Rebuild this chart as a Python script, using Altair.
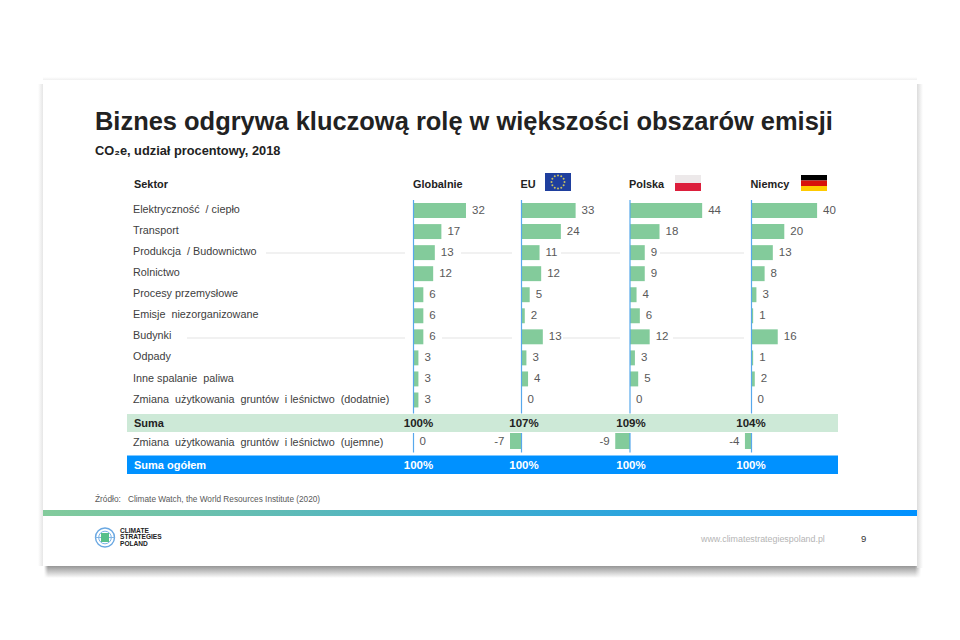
import math
import altair as alt
import pandas as pd

FONT = "Liberation Sans"
SP = " \u00a0"
SECTORS = ["Elektryczność" + SP + "/ ciepło", "Transport", "Produkcja" + SP + "/ Budownictwo", "Rolnictwo",
           "Procesy przemysłowe", "Emisje" + SP + "niezorganizowane", "Budynki", "Odpady",
           "Inne spalanie" + SP + "paliwa",
           "Zmiana" + SP + "użytkowania" + SP + "gruntów" + SP + "i leśnictwo" + SP + "(dodatnie)"]
NEG_LABEL = "Zmiana" + SP + "użytkowania" + SP + "gruntów" + SP + "i leśnictwo" + SP + "(ujemne)"
COUNTRIES = ["Globalnie", "EU", "Polska", "Niemcy"]
VALUES = {
    "Globalnie": [32, 17, 13, 12, 6, 6, 6, 3, 3, 3],
    "EU": [33, 24, 11, 12, 5, 2, 13, 3, 4, 0],
    "Polska": [44, 18, 9, 9, 4, 6, 12, 3, 5, 0],
    "Niemcy": [40, 20, 13, 8, 3, 1, 16, 1, 2, 0],
}
NEGATIVE = {"Globalnie": 0, "EU": -7, "Polska": -9, "Niemcy": -4}
SUMA = {"Globalnie": "100%", "EU": "107%", "Polska": "109%", "Niemcy": "104%"}
OGOLEM = {"Globalnie": "100%", "EU": "100%", "Polska": "100%", "Niemcy": "100%"}

W, H = 944, 624
def X(p): return p - 8
def Y(p): return p - 8
BASE = {"Globalnie": 413.5, "EU": 521.5, "Polska": 630, "Niemcy": 751.5}
TOTAL_X = {"Globalnie": 418.5, "EU": 524, "Polska": 631, "Niemcy": 751}
K = 1.64
GREEN = "#83CB9B"
BLUE = "#0091FF"
AXBLUE = "#58A8EC"

EMPTY = pd.DataFrame({"a": [0]})

def rect(x1, y1, x2, y2, color, opacity=1.0, **kw):
    return alt.Chart(EMPTY).mark_rect(color=color, opacity=opacity, **kw).encode(
        x=alt.value(X(x1)), x2=alt.value(X(x2)), y=alt.value(Y(y1)), y2=alt.value(Y(y2)))

def txt(s, x, y, size=12, color="#404040", bold=False, align="left"):
    return alt.Chart(pd.DataFrame({"t": [s]})).mark_text(
        font=FONT, fontSize=size, color=color, fontWeight="bold" if bold else "normal",
        align=align, baseline="middle").encode(x=alt.value(X(x)), y=alt.value(Y(y)), text="t:N")

def grad(c1, c2, vertical=False):
    return alt.Gradient(gradient="linear", x1=0, x2=0 if vertical else 1, y1=0, y2=1 if vertical else 0,
                        stops=[alt.GradientStop(color=c1, offset=0), alt.GradientStop(color=c2, offset=1)])

layers = []
# slide shadow
layers.append(rect(44, 566, 921, 578, grad("#969696", "#FFFFFF", True)))
layers.append(rect(915, 566, 921, 578, grad("rgba(255,255,255,0)", "#FFFFFF")))
layers.append(rect(44, 566, 48, 578, grad("#FFFFFF", "rgba(255,255,255,0)")))
layers.append(rect(917, 84, 923, 568, grad("#DCDCDC", "#FFFFFF")))
layers.append(rect(38, 84, 43, 566, grad("#FFFFFF", "#E6E6E6")))
layers.append(rect(43, 77, 917, 80, grad("#FFFFFF", "#F0F0F0", True)))
layers.append(rect(43, 80, 917, 566, "#FFFFFF"))

# title
layers.append(txt("Biznes odgrywa kluczową rolę w większości obszarów emisji", 95, 122, 25.45, "#222222", True))
layers.append(txt("CO₂e, udział procentowy, 2018", 95, 151, 12.8, "#222222", True))
layers.append(txt("Sektor", 134, 184.5, 10.9, "#222222", True))
for c, px in zip(COUNTRIES, [413, 520.5, 629, 750.5]):
    layers.append(txt(c, px, 184.5, 10.9, "#222222", True))

# flags
layers.append(rect(545, 173, 571, 191, "#1F3F9E"))
for i in range(12):
    a = i * math.pi / 6
    layers.append(alt.Chart(EMPTY).mark_point(filled=True, color="#C9C060", size=4, opacity=1).encode(
        x=alt.value(X(558 + 6.5 * math.cos(a))), y=alt.value(Y(182 + 6.5 * math.sin(a)))))
layers.append(rect(675, 175, 701, 183, "#EDE9EA"))
layers.append(rect(675, 183, 701, 191, "#DC1F3C"))
layers.append(rect(801, 175, 827, 180.5, "#000000"))
layers.append(rect(801, 180.5, 827, 186, "#D8110B"))
layers.append(rect(801, 186, 827, 191, "#FFCB00"))

# grid strokes
for y, segs in [(253, [(266, 405), (461, 512), (561, 620), (660, 744)]),
                (338, [(187, 405), (442, 512), (563, 620), (673, 744)])]:
    for a, b in segs:
        layers.append(rect(a, y - 1, b, y + 1, "#F1F1F1"))

# bands
layers.append(rect(127, 414, 838, 432, "#CDE9D7"))
layers.append(rect(127, 455.5, 838, 474, BLUE))

# row labels
ytop, ybot = Y(200), Y(410.5)
ysc = alt.Scale(domain=SECTORS, range=[ytop, ybot], paddingInner=0.29, paddingOuter=0.145)
sector_df = pd.DataFrame({"s": SECTORS})
layers.append(alt.Chart(sector_df).mark_text(font=FONT, fontSize=10.8, color="#404040", align="left", baseline="middle", dy=-0.4).encode(
    x=alt.value(X(133)), y=alt.Y("s:N", scale=ysc, axis=None, sort=SECTORS), text="s:N"))

for c in COUNTRIES:
    b = BASE[c]
    xsc = alt.Scale(domain=[-10, 50], range=[X(b - 10 * K), X(b + 50 * K)])
    df = pd.DataFrame({"s": SECTORS, "v": VALUES[c], "z": [0] * 10})
    df["vv"] = df["v"].astype(str)
    bars = alt.Chart(df[df.v > 0]).mark_bar(color=GREEN).encode(
        x=alt.X("z:Q", scale=xsc, axis=None), x2="v:Q",
        y=alt.Y("s:N", scale=ysc, axis=None, sort=SECTORS))
    labels = alt.Chart(df).mark_text(font=FONT, fontSize=11.5, color="#595959", align="left", baseline="middle", dx=6).encode(
        x=alt.X("v:Q", scale=xsc, axis=None),
        y=alt.Y("s:N", scale=ysc, axis=None, sort=SECTORS), text="vv:N")
    layers += [bars, labels]

    # negative row
    nrow = pd.DataFrame({"s": [NEG_LABEL], "v": [NEGATIVE[c]], "z": [0], "vv": [str(NEGATIVE[c])]})
    ynsc = alt.Scale(domain=[NEG_LABEL], range=[Y(433), Y(449)], paddingInner=0, paddingOuter=0)
    if NEGATIVE[c] < 0:
        layers.append(alt.Chart(nrow).mark_bar(color=GREEN).encode(
            x=alt.X("v:Q", scale=xsc, axis=None), x2="z:Q", y=alt.Y("s:N", scale=ynsc, axis=None)))
    layers.append(alt.Chart(nrow).mark_text(font=FONT, fontSize=11.5, color="#595959",
                                            align="right" if NEGATIVE[c] < 0 else "left",
                                            baseline="middle", dx=-5.5 if NEGATIVE[c] < 0 else 6, dy=1).encode(
        x=alt.X("v:Q", scale=xsc, axis=None), y=alt.Y("s:N", scale=ynsc, axis=None), text="vv:N"))
    # axis lines
    layers.append(rect(b - .6, 200, b + .6, 413.5, AXBLUE))
    layers.append(rect(b - .6, 433, b + .6, 452.5, AXBLUE))
    # totals
    layers.append(txt(SUMA[c], TOTAL_X[c], 423.5, 11.5, "#222222", True, "center"))
    layers.append(txt(OGOLEM[c], TOTAL_X[c], 465.5, 11.5, "#FFFFFF", True, "center"))

layers.append(txt(NEG_LABEL, 133, 442.5, 10.8))
layers.append(txt("Suma", 134, 423.5, 11, "#222222", True))
layers.append(txt("Suma ogółem", 134, 465.5, 11, "#FFFFFF", True))

# footer
layers.append(txt("Źródło:", 95, 499.5, 8.3, "#595959"))
layers.append(txt("Climate Watch, the World Resources Institute (2020)", 128, 499.5, 8.25, "#595959"))
layers.append(rect(43, 510, 917, 516, grad("#83CB9B", "#0091FF")))
layers.append(txt("www.climatestrategiespoland.pl", 701, 539, 8.9, "#B5B5B5"))
layers.append(txt("9", 861, 539, 9.5, "#333333"))

# logo
for s, w in [(361, 1.4), (160, 0.9), (40, 0.9)]:
    layers.append(alt.Chart(EMPTY).mark_point(size=s, color="#6AA8E2", filled=False, strokeWidth=w, opacity=1).encode(
        x=alt.value(X(105)), y=alt.value(Y(537.5))))
layers.append(rect(95.5, 537, 114.5, 538, "#7FB5E6"))
layers.append(rect(101, 533, 109, 542, "#58C08A"))
for i, s in enumerate(["CLIMATE", "STRATEGIES", "POLAND"]):
    layers.append(txt(s, 120, 530.5 + i * 6.7, 6.6, "#222222", True))

chart = alt.layer(*layers).resolve_scale(x="independent", y="independent").properties(
    width=W, height=H, padding=0, autosize=alt.AutoSizeParams(type="none"), background="white"
).configure_view(stroke=None)

chart.save("out.html", embed_options={"renderer": "svg", "actions": False})
